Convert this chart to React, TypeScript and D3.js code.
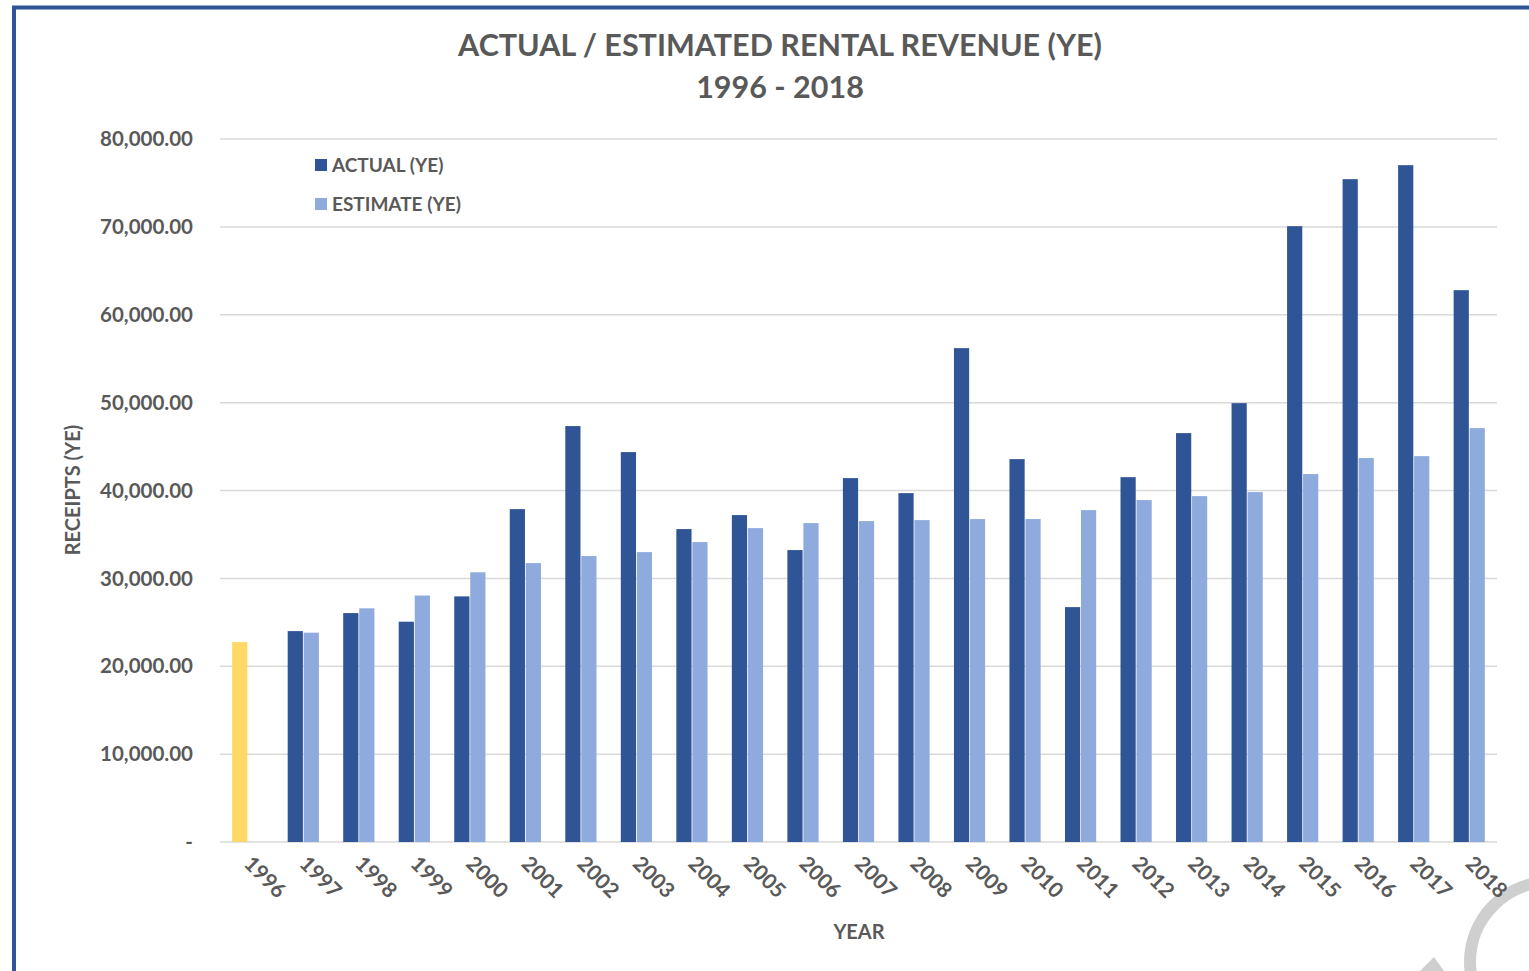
import React from 'react';
import * as d3 from 'd3';

const years = [
  '1996', '1997', '1998', '1999', '2000', '2001', '2002', '2003', '2004', '2005', '2006', '2007',
  '2008', '2009', '2010', '2011', '2012', '2013', '2014', '2015', '2016', '2017', '2018',
];

// receipts per year (1996 has only the one starting figure)
const actual = [
  22750, 24000, 26050, 25070, 27950, 37880, 47330, 44370, 35610, 37200, 33220, 41410,
  39700, 56200, 43570, 26730, 41520, 46530, 49940, 70080, 75430, 77020, 62800,
];
const estimate = [
  null, 23820, 26590, 28050, 30690, 31740, 32540, 32990, 34130, 35720, 36290, 36520,
  36630, 36750, 36750, 37770, 38910, 39360, 39820, 41870, 43690, 43910, 47100,
];

const yTicks = [0, 10000, 20000, 30000, 40000, 50000, 60000, 70000, 80000];
const seriesNames = ['ACTUAL (YE)', 'ESTIMATE (YE)'];

const WIDTH = 1529;
const HEIGHT = 971;
const FONT = 'Lato, "Open Sans", sans-serif';
const TEXT = '#595959';
const DARK = '#2F5597';
const LIGHT = '#8FAADC';
const FIRST = '#FFD966';

export default function App() {
  const margin = { left: 220, right: 32, top: 139, bottom: 129 };

  const x = d3
    .scaleBand<string>()
    .domain(years)
    .range([margin.left, WIDTH - margin.right])
    .padding(0);

  const x1 = d3
    .scaleBand<string>()
    .domain(['a', 'e'])
    .range([0, x.bandwidth()])
    .paddingInner(0.05)
    .paddingOuter(0.76);

  const y = d3
    .scaleLinear()
    .domain([0, 80000])
    .range([HEIGHT - margin.bottom, margin.top]);

  const fmt = d3.format(',.2f');

  return (
    <svg
      width={WIDTH}
      height={HEIGHT}
      style={{ position: 'absolute', left: 0, top: 0, background: '#fff' }}
      fontFamily={FONT}
    >
      {/* frame */}
      <path d={`M14,${HEIGHT} L14,7.5 L${WIDTH},7.5`} fill="none" stroke={DARK} strokeWidth={4} />

      {/* decorative ring, bottom right */}
      <circle cx={1550} cy={962} r={80} fill="none" stroke="#cfcfcf" strokeWidth={12} />
      <path d="M1420,971 L1434,957 L1444,971 Z" fill="#cfcfcf" />

      <text x={780} y={56} textAnchor="middle" fontSize={30.5} fontWeight={700} fill={TEXT}>
        ACTUAL / ESTIMATED RENTAL REVENUE (YE)
      </text>
      <text x={780} y={98} textAnchor="middle" fontSize={30.5} fontWeight={700} fill={TEXT}>
        1996 - 2018
      </text>

      {/* grid + y labels */}
      {yTicks.map(t => (
        <g key={t}>
          <line
            x1={margin.left}
            x2={WIDTH - margin.right}
            y1={y(t)}
            y2={y(t)}
            stroke="#d9d9d9"
            strokeWidth={1.5}
          />
          <text
            x={193}
            y={y(t)}
            dy="0.35em"
            textAnchor="end"
            fontSize={20.5}
            fontWeight={700}
            fill={TEXT}
          >
            {t === 0 ? '-' : fmt(t)}
          </text>
        </g>
      ))}

      {/* bars */}
      {years.map((yr, i) => {
        const gx = x(yr) || 0;
        const a = actual[i];
        const e = estimate[i];
        return (
          <g key={yr}>
            <rect
              x={gx + (x1('a') || 0)}
              y={y(a)}
              width={x1.bandwidth()}
              height={y(0) - y(a)}
              fill={i === 0 ? FIRST : DARK}
            />
            {e != null && (
              <rect
                x={gx + (x1('e') || 0)}
                y={y(e)}
                width={x1.bandwidth()}
                height={y(0) - y(e)}
                fill={LIGHT}
              />
            )}
          </g>
        );
      })}

      {/* x labels */}
      {years.map(yr => {
        const cx = (x(yr) || 0) + x.bandwidth() / 2;
        return (
          <text
            key={yr}
            transform={`translate(${cx - 5},${865}) rotate(45)`}
            fontSize={21}
            fontWeight={700}
            fill={TEXT}
          >
            {yr}
          </text>
        );
      })}

      <text x={859} y={939} textAnchor="middle" fontSize={20} fontWeight={700} fill={TEXT}>
        YEAR
      </text>
      <text
        transform={`translate(80,${490}) rotate(-90)`}
        textAnchor="middle"
        fontSize={20}
        fontWeight={700}
        fill={TEXT}
      >
        RECEIPTS (YE)
      </text>

      {/* legend */}
      {seriesNames.map((s, i) => (
        <g key={s} transform={`translate(315,${159 + i * 39})`}>
          <rect width={12} height={12} fill={i === 0 ? DARK : LIGHT} />
          <text x={17} y={6} dy="0.35em" fontSize={19} fontWeight={700} fill={TEXT}>
            {s}
          </text>
        </g>
      ))}
    </svg>
  );
}
